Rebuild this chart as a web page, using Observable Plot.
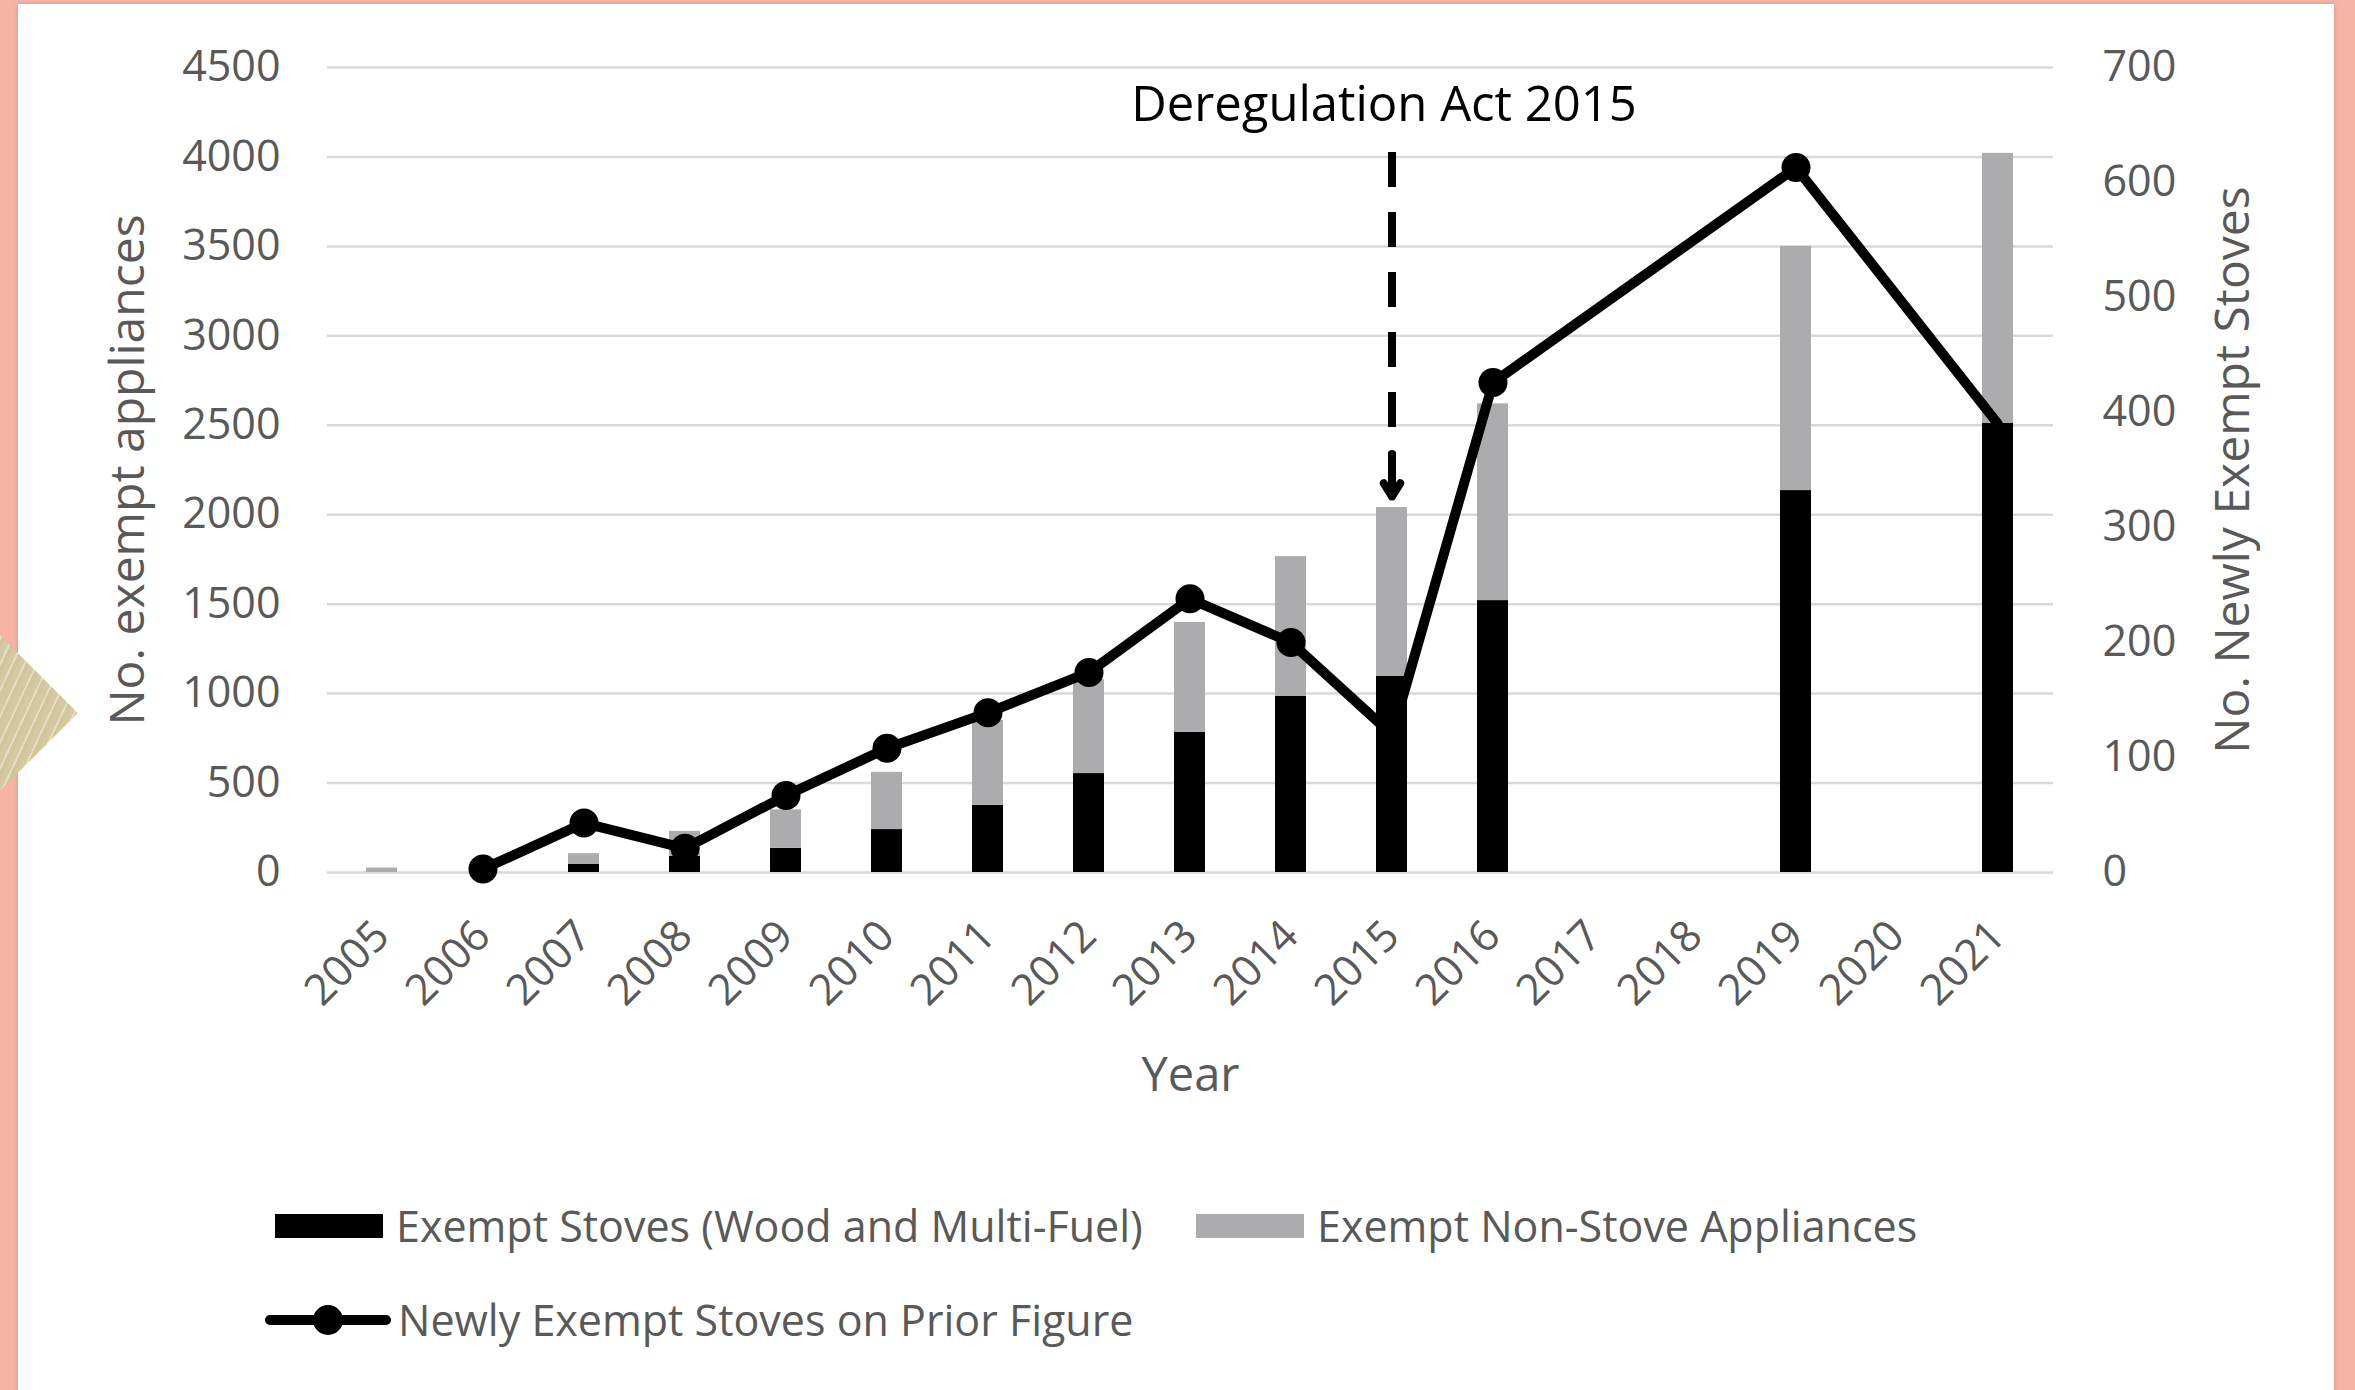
<!DOCTYPE html>
<html>
<head>
<meta charset="utf-8">
<script src="https://cdn.jsdelivr.net/npm/d3@7"></script>
<script src="https://cdn.jsdelivr.net/npm/@observablehq/plot@0.6"></script>
<style>
  html, body { margin: 0; padding: 0; }
  body { width: 2355px; height: 1390px; background: #f6b4a6; position: relative; overflow: hidden; font-family: "Open Sans", sans-serif; }
  #card { position: absolute; left: 18px; top: 4px; width: 2316px; height: 1400px; background: #fff; box-shadow: 0 0 4px rgba(0,0,0,0.18); }
  #diamond { position: absolute; left: -55px; top: 658px; width: 110px; height: 110px; transform: rotate(45deg);
    background: repeating-linear-gradient(70deg, #d6c8a2 0 5px, #e6dcc2 5px 7px, #d2c49c 7px 11px); z-index: 3; }
  #chart { position: absolute; left: 0; top: 0; z-index: 2; }
  .leg { position: absolute; display: flex; align-items: center; font-size: 43px; color: #595959; white-space: nowrap; z-index: 2; }
  .sw { display: inline-block; width: 108px; height: 24px; margin-right: 13px; }
</style>
</head>
<body>
<div id="card"></div>
<div id="diamond"></div>
<div id="chart"></div>
<div class="leg" style="left:275px; top:1196px;"><span class="sw" style="background:#000"></span><span id="l1"></span></div>
<div class="leg" style="left:1196px; top:1196px;"><span class="sw" style="background:#acacae"></span><span id="l2"></span></div>
<div class="leg" style="left:264px; top:1290px;">
  <svg width="128" height="32" style="margin-right:6px"><line x1="6" y1="16" x2="122" y2="16" stroke="#000" stroke-width="10" stroke-linecap="round"/><circle cx="64" cy="16" r="15" fill="#000"/></svg>
  <span id="l3"></span>
</div>
<script>
// ---- data ----
const years = ["2005","2006","2007","2008","2009","2010","2011","2012","2013","2014","2015","2016","2017","2018","2019","2020","2021"];
const stoves   = [0, 0, 45, 90, 135, 240, 375, 553, 783, 984, 1096, 1520, null, null, 2135, null, 2510];
const nonStove = [25, 0, 60, 140, 215, 320, 475, 525, 615, 782, 944, 1100, null, null, 1365, null, 1510];
const lineYears = ["2006","2007","2008","2009","2010","2011","2012","2013","2014","2015","2016","2019","2021"];
const newlyExempt = [3, 43, 21, 67, 108, 139, 174, 238, 200, 120, 426, 613, 390];
const markerShown = [true, true, true, true, true, true, true, true, true, true, true, true, false];
const seriesNames = ["Exempt Stoves (Wood and Multi-Fuel)", "Exempt Non-Stove Appliances"];
const lineName = "Newly Exempt Stoves on Prior Figure";
const leftTicks = [0, 500, 1000, 1500, 2000, 2500, 3000, 3500, 4000, 4500];
const rightTicks = [0, 100, 200, 300, 400, 500, 600, 700];
const annotations = [{year: "2015", top: 4025, bottom: 2080, labelY: 4290, label: "Deregulation Act 2015"}];
const titles = {x: "Year", yLeft: "No. exempt appliances", yRight: "No. Newly Exempt Stoves"};

// ---- build ----
const k = leftTicks[leftTicks.length - 1] / rightTicks[rightTicks.length - 1];
const rows = [];
years.forEach((y, i) => {
  if (stoves[i] != null) {
    rows.push({year: y, type: seriesNames[0], value: stoves[i]});
    rows.push({year: y, type: seriesNames[1], value: nonStove[i]});
  }
});
const lineData = lineYears.map((y, i) => ({year: y, value: newlyExempt[i] * k, marker: markerShown[i]}));

const plot = Plot.plot({
  width: 2355,
  height: 1110,
  marginLeft: 327,
  marginRight: 302,
  marginTop: 67,
  marginBottom: 238,
  style: {background: "transparent", fontFamily: "Open Sans", fontSize: "43px", color: "#595959", overflow: "visible", maxWidth: "none"},
  x: {type: "band", domain: years, paddingInner: 0.69, paddingOuter: 0.345},
  y: {domain: [0, leftTicks[leftTicks.length - 1]]},
  color: {domain: seriesNames, range: ["#000000", "#acacae"]},
  marks: [
    Plot.gridY({ticks: leftTicks, stroke: "#d9d9d9", strokeOpacity: 1, strokeWidth: 2.5}),
    Plot.axisY({ticks: leftTicks, anchor: "left", tickSize: 0, tickPadding: 47, label: null, tickFormat: d => String(d)}),
    Plot.axisY({ticks: rightTicks.map(v => v * k), anchor: "right", tickSize: 0, tickPadding: 49, label: null, tickFormat: d => String(Math.round(d / k))}),
    Plot.axisX({tickRotate: -45, tickSize: 0, tickPadding: 56, label: null}),
    Plot.barY(rows, Plot.stackY({x: "year", y: "value", fill: "type", order: seriesNames})),
    Plot.line(lineData, {x: "year", y: "value", stroke: "#000", strokeWidth: 10, strokeLinejoin: "round"}),
    Plot.dot(lineData.filter(d => d.marker), {x: "year", y: "value", r: 14.5, fill: "#000"}),
    Plot.ruleX(annotations, {x: "year", y1: "top", y2: d => d.bottom + 120, stroke: "#000", strokeWidth: 8, strokeDasharray: "35,25"}),
    Plot.arrow(annotations, {x: "year", y1: d => d.bottom + 260, y2: "bottom", stroke: "#000", strokeWidth: 8, headLength: 30, headAngle: 64, insetEnd: 4}),
    Plot.text(annotations, {x: "year", y: "labelY", text: "label", fill: "#000", fontSize: 49, dx: -8}),
    Plot.text([titles.x], {frameAnchor: "bottom", dy: 218, fontSize: 47, fill: "#595959"}),
    Plot.text([titles.yLeft], {frameAnchor: "left", textAnchor: "middle", dx: -199, rotate: -90, fontSize: 48, fill: "#595959"}),
    Plot.text([titles.yRight], {frameAnchor: "right", textAnchor: "middle", dx: 180, rotate: -90, fontSize: 48, fill: "#595959"})
  ]
});
document.getElementById("chart").appendChild(plot);
document.getElementById("l1").textContent = seriesNames[0];
document.getElementById("l2").textContent = seriesNames[1];
document.getElementById("l3").textContent = lineName;
</script>
</body>
</html>
